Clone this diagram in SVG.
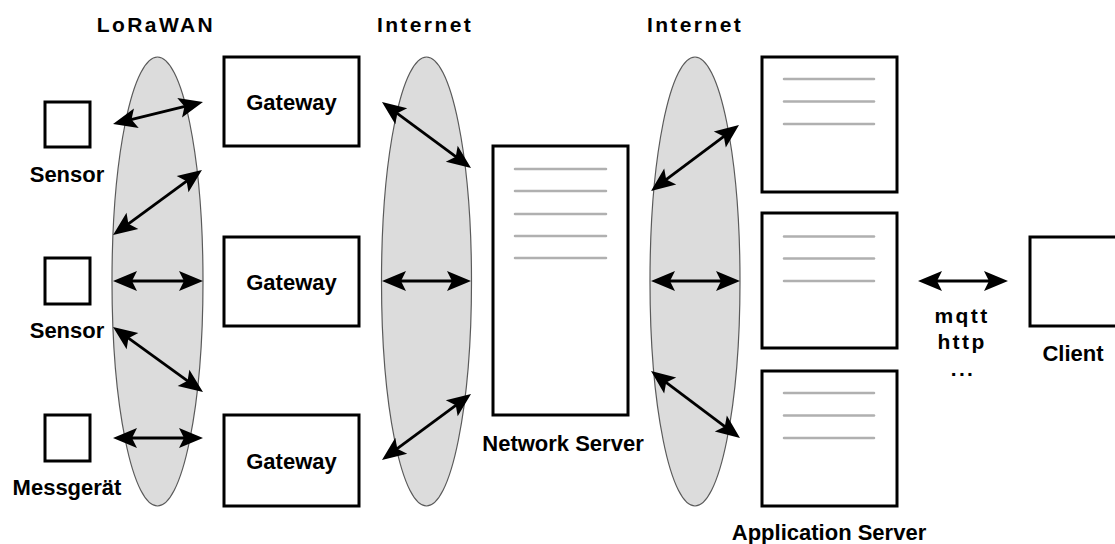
<svg xmlns="http://www.w3.org/2000/svg" width="1115" height="544" viewBox="0 0 1115 544">
<style>
.cloud{fill:#dcdcdc;stroke:#5a5a5a;stroke-width:1.2}
.box{fill:#fff;stroke:#000;stroke-width:3}
.srvline{stroke:#b0b0b0;stroke-width:2.5;stroke-linecap:round}
.lbl{font-family:"Liberation Sans",Arial,sans-serif;font-weight:bold;font-size:22px;fill:#000;text-anchor:middle}
.ttl{font-family:"Liberation Sans",Arial,sans-serif;font-weight:bold;font-size:21px;fill:#000;text-anchor:middle;letter-spacing:2.4px}
.conn line{stroke:#000;stroke-width:2.8;marker-start:url(#ah);marker-end:url(#ah)}
</style>
<defs>
<marker id="ah" viewBox="-17 -11 26 22" markerWidth="26" markerHeight="22" refX="0" refY="0" markerUnits="userSpaceOnUse" orient="auto-start-reverse">
<path d="M8,0 L-16,-10 L-11,0 L-16,10 Z" fill="#000"/>
</marker>
</defs>

<g id="lorawan"><ellipse class="cloud" cx="157.5" cy="281.5" rx="45.5" ry="224.5"/><text class="ttl" x="156" y="32">LoRaWAN</text></g>
<g id="internet1"><ellipse class="cloud" cx="426.5" cy="281.5" rx="45" ry="224.5"/><text class="ttl" x="425" y="32">Internet</text></g>
<g id="internet2"><ellipse class="cloud" cx="695" cy="281.5" rx="45" ry="224.5"/><text class="ttl" x="695" y="32">Internet</text></g>

<g id="sensor1"><rect class="box" x="45" y="102" width="45" height="45"/><text class="lbl" x="67" y="182">Sensor</text></g>
<g id="sensor2"><rect class="box" x="45" y="258" width="45" height="46"/><text class="lbl" x="67" y="338">Sensor</text></g>
<g id="messgeraet"><rect class="box" x="45" y="415" width="45" height="46"/><text class="lbl" x="67" y="495">Messgerät</text></g>

<g id="gateway1"><rect class="box" x="224" y="57" width="135" height="89"/><text class="lbl" x="291.5" y="110">Gateway</text></g>
<g id="gateway2"><rect class="box" x="224" y="237" width="135" height="89"/><text class="lbl" x="291.5" y="290">Gateway</text></g>
<g id="gateway3"><rect class="box" x="224" y="415" width="135" height="91"/><text class="lbl" x="291.5" y="469">Gateway</text></g>

<g id="networkserver"><rect class="box" x="493" y="146" width="135" height="269"/>
<line class="srvline" x1="515" y1="169" x2="606" y2="169"/>
<line class="srvline" x1="515" y1="191" x2="606" y2="191"/>
<line class="srvline" x1="515" y1="214" x2="606" y2="214"/>
<line class="srvline" x1="515" y1="236" x2="606" y2="236"/>
<line class="srvline" x1="515" y1="258" x2="606" y2="258"/>
<text class="lbl" x="563" y="451">Network Server</text></g>

<g id="appserver1"><rect class="box" x="762" y="57" width="135" height="135"/>
<line class="srvline" x1="784" y1="79" x2="874" y2="79"/>
<line class="srvline" x1="784" y1="101.5" x2="874" y2="101.5"/>
<line class="srvline" x1="784" y1="124" x2="874" y2="124"/></g>
<g id="appserver2"><rect class="box" x="762" y="213" width="135" height="135"/>
<line class="srvline" x1="784" y1="236.5" x2="874" y2="236.5"/>
<line class="srvline" x1="784" y1="258.5" x2="874" y2="258.5"/>
<line class="srvline" x1="784" y1="281" x2="874" y2="281"/></g>
<g id="appserver3"><rect class="box" x="762" y="371" width="135" height="135"/>
<line class="srvline" x1="784" y1="393" x2="874" y2="393"/>
<line class="srvline" x1="784" y1="415.5" x2="874" y2="415.5"/>
<line class="srvline" x1="784" y1="438" x2="874" y2="438"/>
<text class="lbl" x="829" y="540">Application Server</text></g>

<g id="client"><rect class="box" x="1030" y="237" width="135" height="89"/><text class="lbl" x="1073" y="361">Client</text></g>

<g id="protocols"><text class="ttl" x="962" y="323">mqtt</text><text class="ttl" x="962" y="349">http</text><text class="ttl" x="963" y="376">...</text></g>

<g class="conn" id="connectors">
<line x1="120.8" y1="122.1" x2="195.2" y2="103.9"/>
<line x1="119.5" y1="230.3" x2="195.5" y2="174.7"/>
<line x1="121" y1="281" x2="195" y2="281"/>
<line x1="119.5" y1="331.7" x2="196.5" y2="387.3"/>
<line x1="121" y1="438" x2="195" y2="438"/>
<line x1="388.4" y1="106.8" x2="464.6" y2="163.2"/>
<line x1="390" y1="281" x2="463" y2="281"/>
<line x1="388.4" y1="455.2" x2="464.6" y2="398.8"/>
<line x1="657.4" y1="186.2" x2="732.6" y2="129.8"/>
<line x1="659" y1="281" x2="732" y2="281"/>
<line x1="657.4" y1="375.8" x2="733.6" y2="433.2"/>
<line x1="926" y1="281" x2="1000" y2="281"/>
</g>
</svg>
